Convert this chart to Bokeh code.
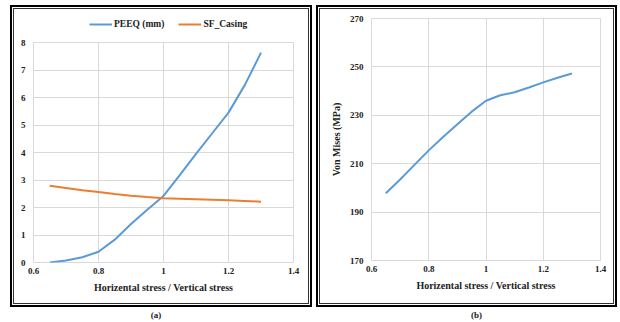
from bokeh.plotting import figure
from bokeh.models import Legend, LegendItem, FixedTicker, NumeralTickFormatter, Div, Range1d
from bokeh.layouts import row, column
from bokeh.embed import file_html
from bokeh.resources import INLINE

# ---- data ----
ratio = [0.65, 0.70, 0.75, 0.80, 0.85, 0.90, 0.95, 1.00, 1.05, 1.10, 1.15, 1.20, 1.25, 1.30]
peeq = [0.00, 0.07, 0.19, 0.39, 0.83, 1.40, 1.92, 2.42, 3.18, 3.95, 4.70, 5.45, 6.45, 7.63]
sf_casing = [2.79, 2.71, 2.63, 2.56, 2.49, 2.43, 2.38, 2.34, 2.32, 2.30, 2.28, 2.26, 2.24, 2.21]
von_mises = [197.8, 203.5, 209.5, 215.5, 221.0, 226.3, 231.5, 236.0, 238.3, 239.5, 241.5, 243.6, 245.5, 247.3]

x_ticks = [0.6, 0.8, 1.0, 1.2, 1.4]
y_ticks_a = [0, 1, 2, 3, 4, 5, 6, 7, 8]
y_ticks_b = [170, 190, 210, 230, 250, 270]

x_label = "Horizental stress / Vertical stress"
y_label_b = "Von Mises (MPa)"
series_names = ["PEEQ (mm)", "SF_Casing"]
captions = ["(a)", "(b)"]

BLUE = "#5B9BD5"
ORANGE = "#ED7D31"
GRID = "#d9d9d9"
FONT = "Liberation Serif"

panel_styles = {
    "outline": "2px solid black",
    "outline-offset": "-2px",
    "box-shadow": "inset 0 0 0 3px white, inset 0 0 0 4px #333",
}


def style_fig(p, y_ticks):
    p.xaxis.ticker = FixedTicker(ticks=x_ticks)
    p.yaxis.ticker = FixedTicker(ticks=y_ticks)
    p.xaxis.formatter = NumeralTickFormatter(format="0.[0]")
    for ax in (p.xaxis[0], p.yaxis[0]):
        ax.major_tick_out = 0
        ax.major_tick_in = 0
        ax.minor_tick_out = 0
        ax.minor_tick_in = 0
        ax.axis_line_color = None
        ax.major_label_text_font = FONT
        ax.major_label_text_font_style = "bold"
        ax.major_label_text_font_size = "9px"
        ax.major_label_text_color = "#222222"
        ax.axis_label_text_font = FONT
        ax.axis_label_text_font_style = "bold"
        ax.axis_label_text_font_size = "10px"
        ax.axis_label_text_color = "#222222"
    p.xaxis.major_label_standoff = 5
    p.xaxis.axis_label_standoff = 5
    p.yaxis.major_label_standoff = 8
    p.yaxis.axis_label_standoff = 5
    p.xgrid.grid_line_color = GRID
    p.ygrid.grid_line_color = GRID
    p.outline_line_color = GRID
    p.border_fill_color = None
    p.background_fill_color = "white"


# ---- panel (a): legend strip (series kept outside its visible range; only the keys show) ----
lf = figure(width=302, height=30, output_backend="svg", toolbar_location=None,
            x_range=Range1d(0.6, 1.4), y_range=Range1d(-20, -10),
            min_border=0, margin=0)
lf.axis.visible = False
lf.grid.visible = False
lf.outline_line_color = None
lf.background_fill_color = None
lf.border_fill_color = None
la = lf.line(ratio, peeq, line_color=BLUE, line_width=2)
lb = lf.line(ratio, sf_casing, line_color=ORANGE, line_width=2)
legend = Legend(items=[LegendItem(label=series_names[0], renderers=[la]),
                       LegendItem(label=series_names[1], renderers=[lb])],
                orientation="horizontal", location=(56, 6),
                label_text_font=FONT, label_text_font_style="bold",
                label_text_font_size="9.5px", label_text_color="#222222",
                glyph_width=23, glyph_height=10, label_standoff=2, spacing=14,
                padding=2, margin=0, border_line_color=None, background_fill_alpha=0)
lf.add_layout(legend, "center")

# ---- panel (a): chart ----
pa = figure(width=302, height=272, output_backend="svg", toolbar_location=None,
            x_range=Range1d(0.6, 1.4), y_range=Range1d(0, 8),
            min_border_left=23, min_border_right=19, min_border_top=7, min_border_bottom=45,
            margin=0)
pa.line(ratio, peeq, line_color=BLUE, line_width=2)
pa.line(ratio, sf_casing, line_color=ORANGE, line_width=2)
pa.xaxis.axis_label = x_label
style_fig(pa, y_ticks_a)

panel_a = column(lf, pa, margin=(5, 0, 0, 10), styles=panel_styles)

# ---- panel (b) ----
pb = figure(width=301, height=302, output_backend="svg", toolbar_location=None,
            x_range=Range1d(0.6, 1.4), y_range=Range1d(170, 270),
            min_border_left=55, min_border_right=17, min_border_top=13, min_border_bottom=47,
            margin=(5, 0, 0, 4))
pb.line(ratio, von_mises, line_color=BLUE, line_width=2)
pb.xaxis.axis_label = x_label
pb.yaxis.axis_label = y_label_b
style_fig(pb, y_ticks_b)
pb.styles = panel_styles

cap_style = {"text-align": "center", "font-family": FONT, "font-weight": "bold",
             "font-size": "9px", "color": "#222222"}
da = Div(text=captions[0], width=292, height=13, margin=(2, 0, 0, 10), styles=cap_style)
db = Div(text=captions[1], width=301, height=13, margin=(2, 0, 0, 14), styles=cap_style)

layout = row(column(panel_a, da), column(pb, db))
open("out.html", "w").write(file_html(layout, INLINE))
